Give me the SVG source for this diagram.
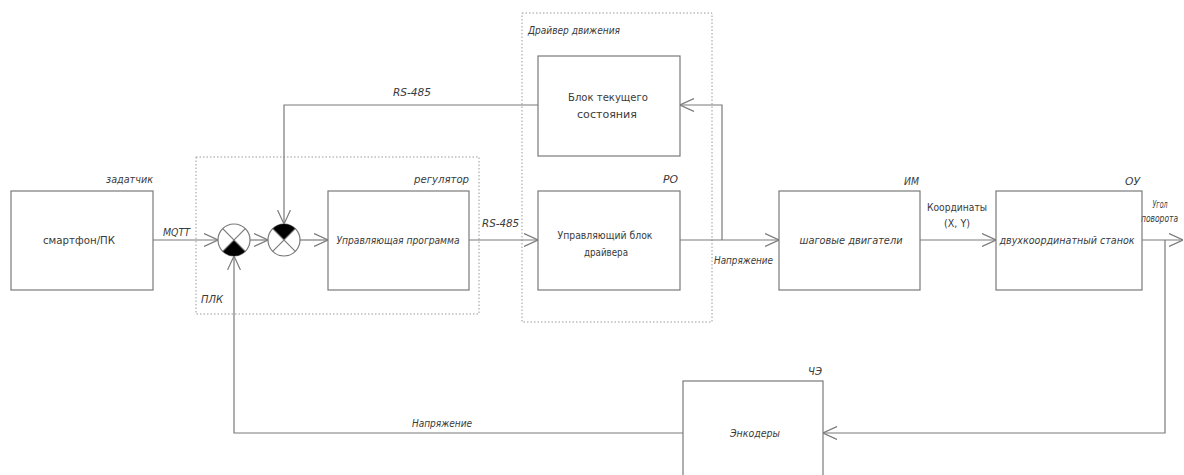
<svg xmlns="http://www.w3.org/2000/svg" width="1184" height="475" viewBox="0 0 1184 475">
<defs>
<style>
.box{fill:none;stroke:#7a7a7a;stroke-width:1.2}
.grp{fill:none;stroke:#9a9a9a;stroke-width:1;stroke-dasharray:1.5 2}
.ln{fill:none;stroke:#7a7a7a;stroke-width:1.2}
.arr{fill:none;stroke:#7a7a7a;stroke-width:1.2;marker-end:url(#ah)}
.t{font-family:"DejaVu Sans Condensed","Liberation Sans Narrow","Liberation Sans",sans-serif;font-size:11px;fill:#3a3a3a}
.i{font-style:italic}
.m{text-anchor:middle}
.e{text-anchor:end}
.blk{fill:#000}
</style>
<marker id="ah" viewBox="0 0 14 14" refX="14" refY="7" markerWidth="14" markerHeight="14" markerUnits="userSpaceOnUse" orient="auto">
<path d="M0,0.5 L14,7 L0,13.5" fill="none" stroke="#7a7a7a" stroke-width="1.2"/>
</marker>
</defs>

<g id="plc-group">
<rect class="grp" x="196" y="157" width="283" height="157"/>
<text class="t i" x="201" y="303" textLength="22" lengthAdjust="spacingAndGlyphs">ПЛК</text>
</g>
<g id="driver-group">
<rect class="grp" x="522" y="13" width="190" height="309"/>
<text class="t i" x="528" y="34" textLength="92" lengthAdjust="spacingAndGlyphs">Драйвер движения</text>
</g>

<g id="connectors">
<path class="arr" d="M153,240 H218"/>
<path class="arr" d="M250,240 H268"/>
<path class="arr" d="M300,240 H328"/>
<path class="arr" d="M469,240 H538"/>
<path class="arr" d="M680,240 H779"/>
<path class="arr" d="M722,240 V105 H680"/>
<path class="arr" d="M538,105 H284 V224"/>
<path class="arr" d="M920,240 H996"/>
<path class="arr" d="M1142,240 H1183"/>
<path class="arr" d="M1165,240 V433 H823"/>
<path class="arr" d="M683,433 H234 V256"/>
<text class="t i" x="163" y="236" textLength="27" lengthAdjust="spacingAndGlyphs">MQTT</text>
<text class="t i" x="482" y="227" textLength="37" lengthAdjust="spacingAndGlyphs">RS-485</text>
<text class="t i" x="393" y="96" textLength="38" lengthAdjust="spacingAndGlyphs">RS-485</text>
<text class="t i" x="714" y="264" textLength="59" lengthAdjust="spacingAndGlyphs">Напряжение</text>
<text class="t m" x="957" y="211" textLength="60" lengthAdjust="spacingAndGlyphs">Координаты</text>
<text class="t m" x="957" y="227" textLength="26" lengthAdjust="spacingAndGlyphs">(X, Y)</text>
<text class="t i m" x="1160" y="208" font-size="10" textLength="15" lengthAdjust="spacingAndGlyphs">Угол</text>
<text class="t i" x="1141" y="222" font-size="10" textLength="37" lengthAdjust="spacingAndGlyphs">поворота</text>
<text class="t i" x="412" y="427" textLength="60" lengthAdjust="spacingAndGlyphs">Напряжение</text>
</g>

<g id="setter">
<rect class="box" x="11" y="191" width="142" height="99"/>
<text class="t i" x="106" y="183" textLength="47" lengthAdjust="spacingAndGlyphs">задатчик</text>
<text class="t m" x="79" y="244" textLength="72" lengthAdjust="spacingAndGlyphs">смартфон/ПК</text>
</g>

<g id="sum1">
<circle class="box" cx="234" cy="240" r="16"/>
<path class="blk" d="M234,240 L245.3,251.3 A16,16 0 0 1 222.7,251.3 Z"/>
<path class="ln" d="M222.7,228.7 L245.3,251.3 M245.3,228.7 L222.7,251.3"/>
</g>
<g id="sum2">
<circle class="box" cx="284" cy="240" r="16"/>
<path class="blk" d="M284,240 L272.7,228.7 A16,16 0 0 1 295.3,228.7 Z"/>
<path class="ln" d="M272.7,228.7 L295.3,251.3 M295.3,228.7 L272.7,251.3"/>
</g>

<g id="regulator">
<rect class="box" x="328" y="191" width="141" height="99"/>
<text class="t i" x="414" y="183" textLength="55" lengthAdjust="spacingAndGlyphs">регулятор</text>
<text class="t i m" x="398" y="244" textLength="123" lengthAdjust="spacingAndGlyphs">Управляющая программа</text>
</g>

<g id="state-block">
<rect class="box" x="538" y="56" width="142" height="100"/>
<text class="t m" x="608" y="101" textLength="80" lengthAdjust="spacingAndGlyphs">Блок текущего</text>
<text class="t m" x="607" y="118" textLength="60" lengthAdjust="spacingAndGlyphs">состояния</text>
</g>

<g id="driver-control">
<rect class="box" x="538" y="191" width="142" height="99"/>
<text class="t i" x="663" y="183" textLength="15" lengthAdjust="spacingAndGlyphs">РО</text>
<text class="t m" x="605" y="239" textLength="95" lengthAdjust="spacingAndGlyphs">Управляющий блок</text>
<text class="t m" x="606" y="256" textLength="44" lengthAdjust="spacingAndGlyphs">драйвера</text>
</g>

<g id="motors">
<rect class="box" x="779" y="191" width="141" height="99"/>
<text class="t i" x="904" y="185" textLength="15" lengthAdjust="spacingAndGlyphs">ИМ</text>
<text class="t i m" x="851" y="244" textLength="103" lengthAdjust="spacingAndGlyphs">шаговые двигатели</text>
</g>

<g id="machine">
<rect class="box" x="996" y="191" width="146" height="99"/>
<text class="t i" x="1125" y="185" textLength="15" lengthAdjust="spacingAndGlyphs">ОУ</text>
<text class="t i m" x="1067" y="244" textLength="135" lengthAdjust="spacingAndGlyphs">двухкоординатный станок</text>
</g>

<g id="encoders">
<rect class="box" x="683" y="381" width="140" height="110"/>
<text class="t i" x="808" y="375" textLength="14" lengthAdjust="spacingAndGlyphs">ЧЭ</text>
<text class="t i m" x="755" y="437" textLength="50" lengthAdjust="spacingAndGlyphs">Энкодеры</text>
</g>
</svg>
